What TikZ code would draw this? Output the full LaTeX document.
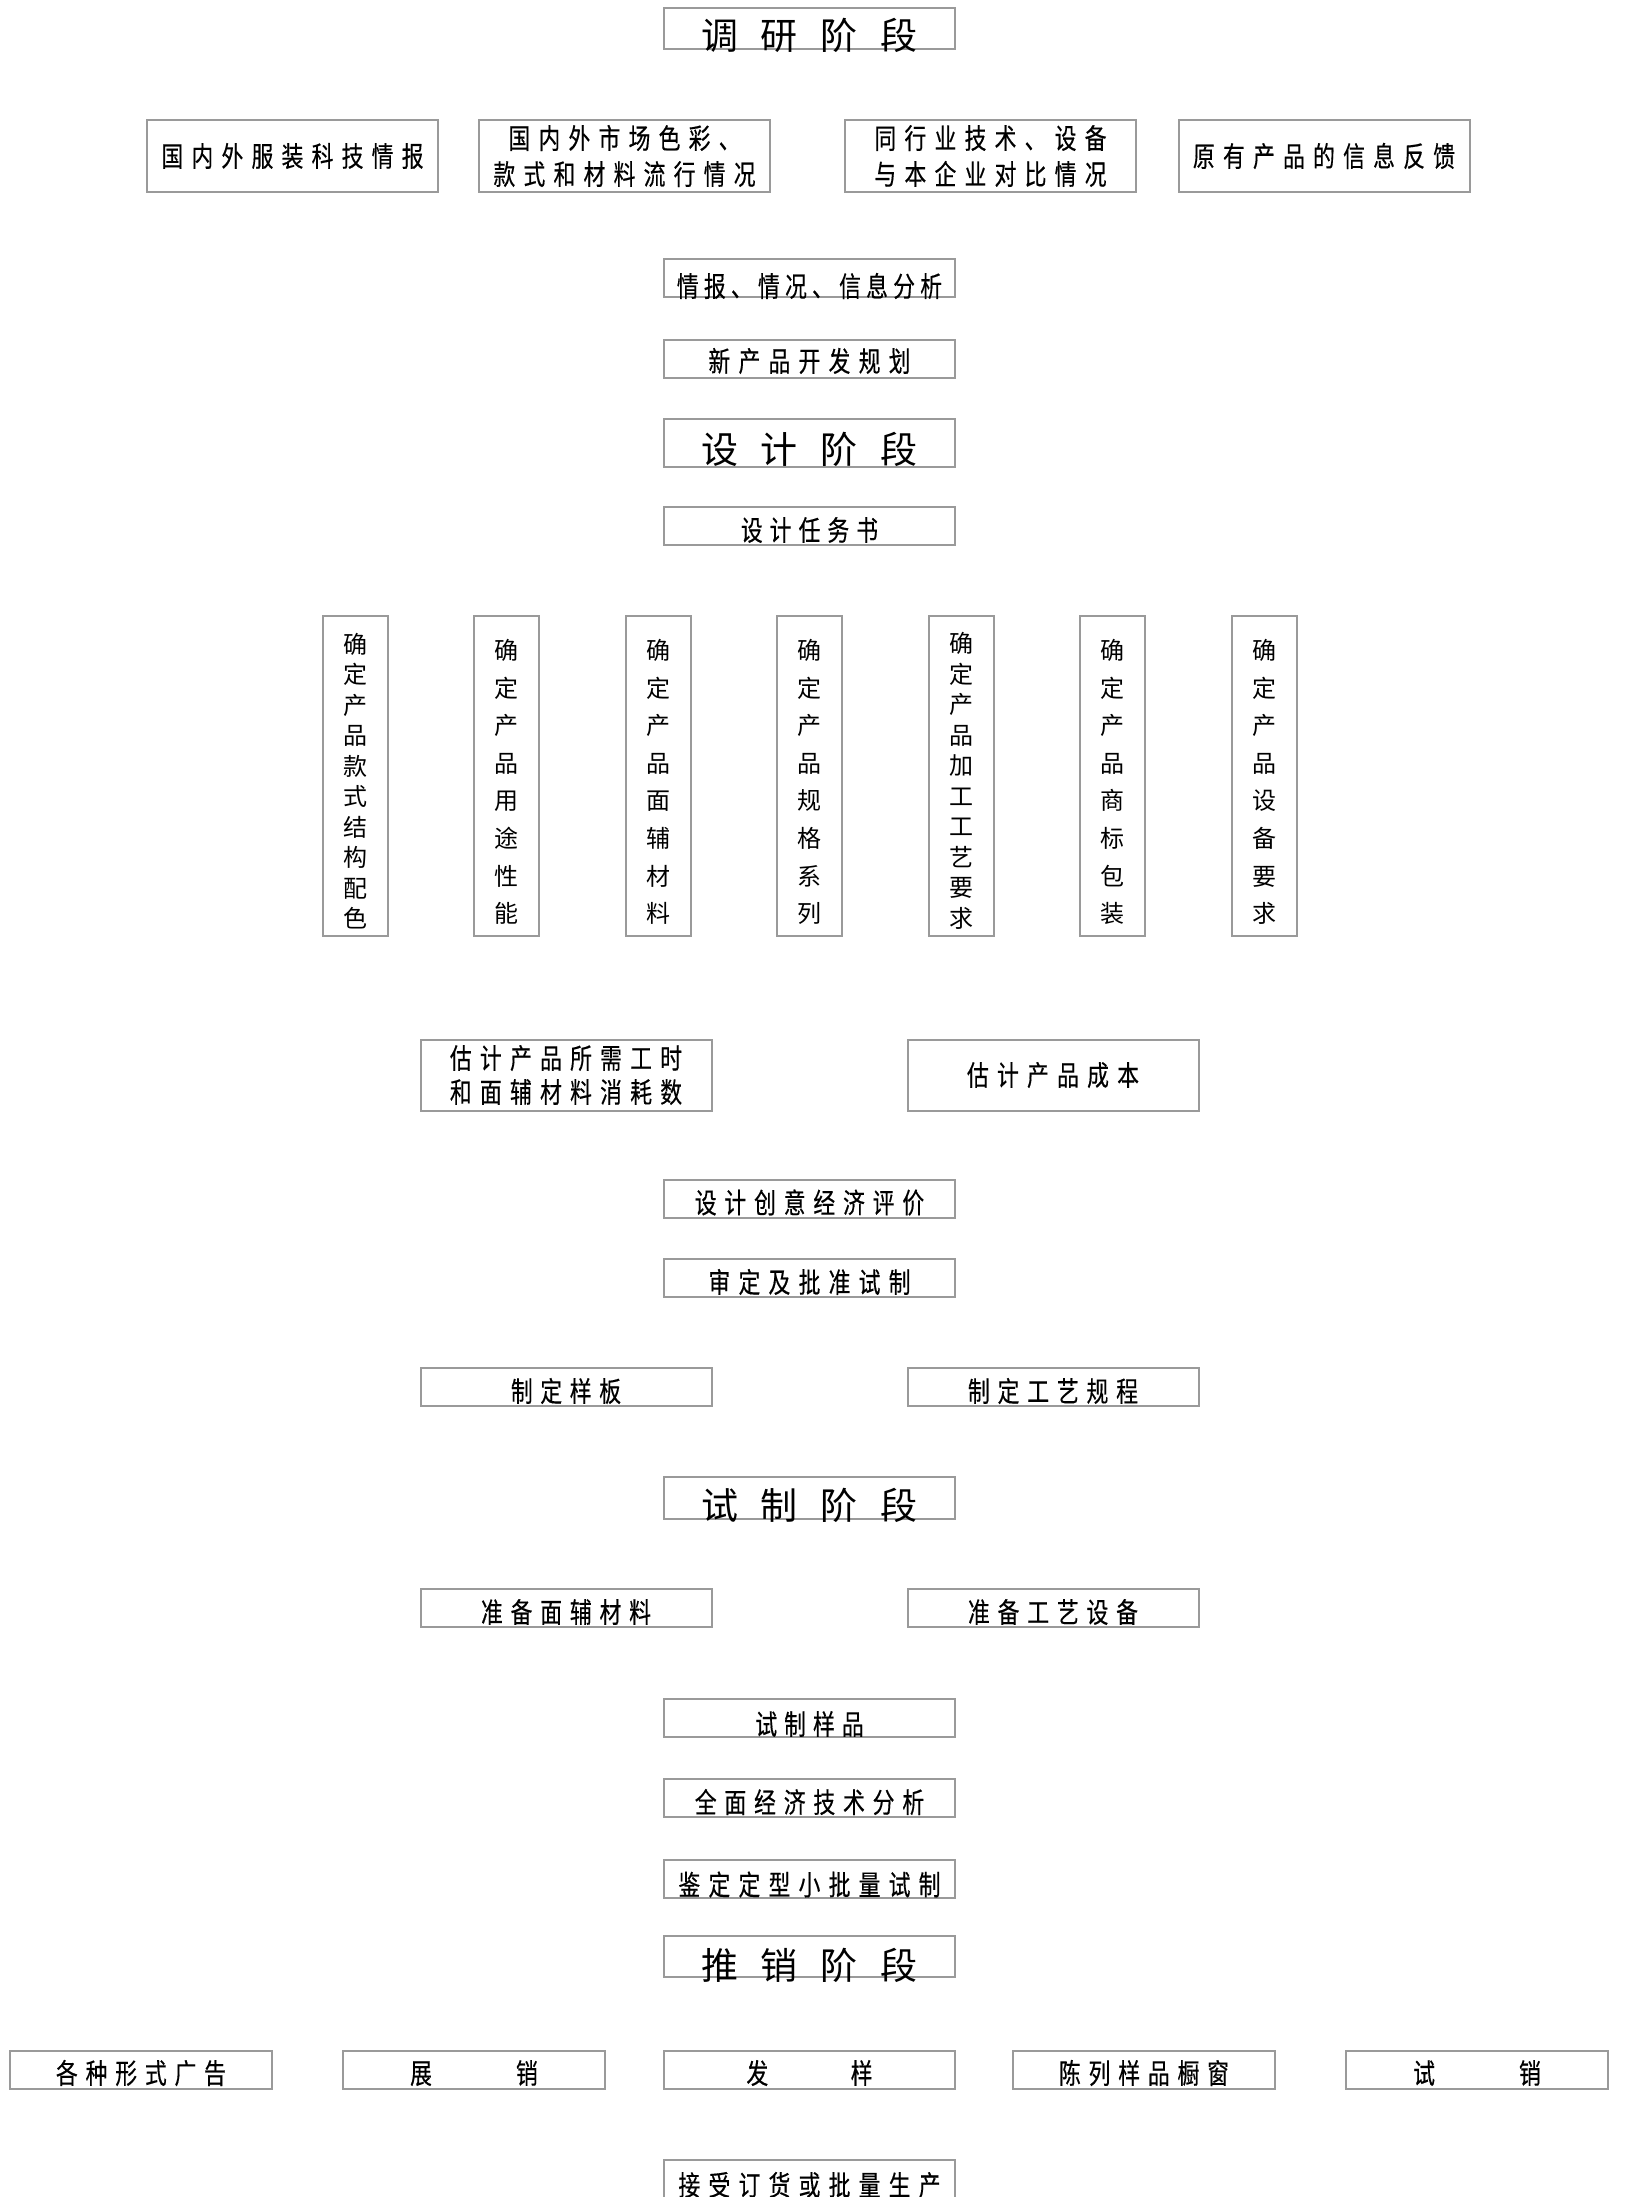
\documentclass[tikz,border=0pt]{standalone}
\usepackage{fontspec}
\newfontfamily\cjk[FakeStretch=0.78,FakeBold=0.4]{Noto Sans CJK SC}
\newfontfamily\cjkv{Noto Sans CJK SC}
\definecolor{boxgray}{HTML}{9A9A9A}
\makeatletter
\newcommand\ls[2]{\def\ls@sep{}\@tfor\ls@c:=#2\do{\ls@sep\ls@c\def\ls@sep{\hspace{#1}}}}
\newcommand\vcol[2]{\vbox{\baselineskip=#1\relax\lineskiplimit=-100pt\@tfor\vc@c:=#2\do{\hbox to 2em{\hss\vc@c\hss}}}}
\newcommand\dn[2]{\raisebox{-#1}[\height][\depth]{#2}}
\makeatother
\begin{document}
\begin{tikzpicture}[x=0.5pt,y=-0.5pt,
  box/.style={draw=boxgray,line width=1pt,inner sep=0pt,minimum width=145.5pt,minimum height=19pt,
    font=\cjk\fontsize{14pt}{17.5pt}\selectfont,align=center},
  sidebox/.style={box,minimum width=131pt},
  titlebox/.style={box,font=\cjkv\fontsize{18.5pt}{22pt}\selectfont},
  vbox/.style={draw=boxgray,line width=1pt,inner sep=0pt,minimum width=32.5pt,minimum height=160pt,
    font=\cjkv\fontsize{12pt}{15pt}\selectfont}]
\useasboundingbox (0,0) rectangle (1625,2197);
% research stage
\node[titlebox,minimum height=20.5pt] (t1) at (809.5,28.5) {\dn{3.5pt}{\ls{11.5pt}{调研阶段}}};
\node[box,minimum height=36pt] (r1) at (292.5,156) {\ls{4.1pt}{国内外服装科技情报}};
\node[box,minimum height=36pt,font=\cjk\fontsize{14pt}{18pt}\selectfont] (r2) at (624.5,156) {\ls{4.1pt}{国内外市场色彩、}\\\ls{4.1pt}{款式和材料流行情况}};
\node[box,minimum height=36pt,font=\cjk\fontsize{14pt}{18pt}\selectfont] (r3) at (990.5,156) {\ls{4.1pt}{同行业技术、设备}\\\ls{4.1pt}{与本企业对比情况}};
\node[box,minimum height=36pt] (r4) at (1324,156) {\ls{4.1pt}{原有产品的信息反馈}};
\node[box] (a1) at (809.5,278) {\dn{4pt}{\ls{2.6pt}{情报、情况、信息分析}}};
\node[box] (a2) at (809.5,359) {\dn{1pt}{\ls{4.1pt}{新产品开发规划}}};
% design stage
\node[titlebox,minimum height=24pt] (t2) at (809.5,443) {\dn{3pt}{\ls{11.5pt}{设计阶段}}};
\node[box] (a3) at (809.5,526) {\dn{2pt}{\ls{3.5pt}{设计任务书}}};
\node[vbox] (v1) at (355,776) {\dn{2.5pt}{\vcol{15.25pt}{确定产品款式结构配色}}};
\node[vbox] (v2) at (506.5,776) {\dn{3pt}{\vcol{18.8pt}{确定产品用途性能}}};
\node[vbox] (v3) at (658,776) {\dn{3pt}{\vcol{18.8pt}{确定产品面辅材料}}};
\node[vbox] (v4) at (809.5,776) {\dn{3pt}{\vcol{18.8pt}{确定产品规格系列}}};
\node[vbox] (v5) at (961,776) {\dn{2.5pt}{\vcol{15.25pt}{确定产品加工工艺要求}}};
\node[vbox] (v6) at (1112.5,776) {\dn{3pt}{\vcol{18.8pt}{确定产品商标包装}}};
\node[vbox] (v7) at (1264,776) {\dn{3pt}{\vcol{18.8pt}{确定产品设备要求}}};
\node[box,minimum height=35.5pt,font=\cjk\fontsize{14pt}{17pt}\selectfont] (e1) at (566,1075) {\ls{4.1pt}{估计产品所需工时}\\\ls{4.1pt}{和面辅材料消耗数}};
\node[box,minimum height=35.5pt] (e2) at (1053,1075) {\ls{4.1pt}{估计产品成本}};
\node[box] (a4) at (809.5,1198.5) {\dn{2pt}{\ls{3.9pt}{设计创意经济评价}}};
\node[box] (a5) at (809.5,1278) {\dn{2pt}{\ls{4.1pt}{审定及批准试制}}};
\node[box] (m1) at (566,1387) {\dn{2pt}{\ls{3.8pt}{制定样板}}};
\node[box] (m2) at (1053,1387) {\dn{2pt}{\ls{3.9pt}{制定工艺规程}}};
% trial stage
\node[titlebox,minimum height=21pt] (t3) at (809.5,1498) {\dn{3.5pt}{\ls{11.5pt}{试制阶段}}};
\node[box] (p1) at (566,1608) {\dn{2pt}{\ls{3.9pt}{准备面辅材料}}};
\node[box] (p2) at (1053,1608) {\dn{2pt}{\ls{3.9pt}{准备工艺设备}}};
\node[box] (a6) at (809.5,1718) {\dn{3pt}{\ls{3.5pt}{试制样品}}};
\node[box] (a7) at (809.5,1798) {\dn{2pt}{\ls{3.9pt}{全面经济技术分析}}};
\node[box] (a8) at (809.5,1878.5) {\dn{3pt}{\ls{4.1pt}{鉴定定型小批量试制}}};
% sales stage
\node[titlebox,minimum height=20.5pt] (t4) at (809.5,1956.5) {\dn{4.5pt}{\ls{11.5pt}{推销阶段}}};
\node[sidebox] (s1) at (141,2070) {\dn{1.5pt}{\ls{3.9pt}{各种形式广告}}};
\node[sidebox] (s2) at (474,2070) {\dn{1.5pt}{\ls{42pt}{展销}}};
\node[box] (s3) at (809.5,2070) {\dn{1.5pt}{\ls{41.2pt}{发样}}};
\node[sidebox] (s4) at (1144,2070) {\dn{1.5pt}{\ls{3.9pt}{陈列样品橱窗}}};
\node[sidebox] (s5) at (1477,2070) {\dn{1.5pt}{\ls{42pt}{试销}}};
\node[box] (f) at (809.5,2179) {\dn{3pt}{\ls{4.1pt}{接受订货或批量生产}}};
\end{tikzpicture}
\end{document}
